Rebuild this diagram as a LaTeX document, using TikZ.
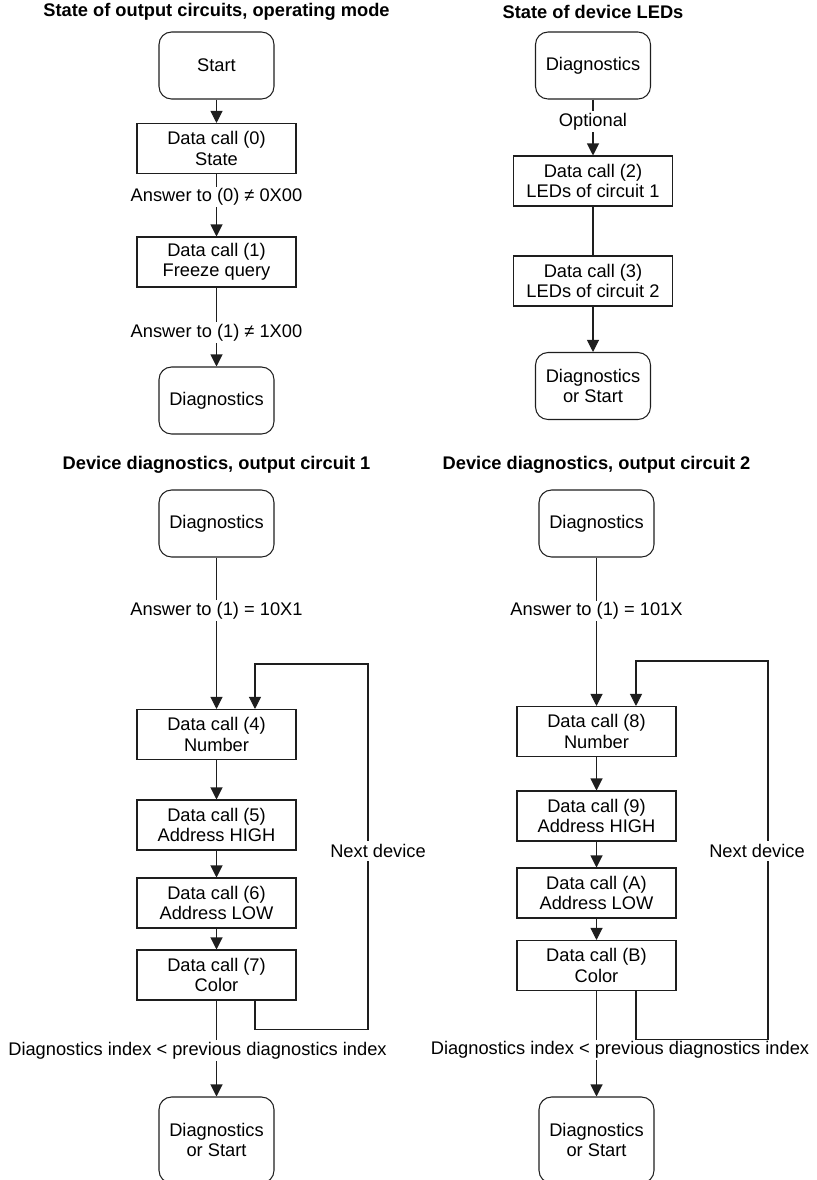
\documentclass[tikz,border=0pt]{standalone}
\definecolor{LineBlack}{RGB}{30,30,30}
\usepackage{fontspec}
\setmainfont{Liberation Sans}
\usepackage{tikz}
\usetikzlibrary{arrows.meta, positioning, calc}

\begin{document}
\begin{tikzpicture}[x=0.02cm, y=-0.02cm, font=\fontsize{10.4}{11.6}\selectfont,
	dcbox/.style={rectangle, draw=LineBlack, line width=0.6pt, minimum width=3.18cm,
		minimum height=1cm, align=center, inner sep=1pt},
	term/.style={rectangle, rounded corners=0.25cm, draw=LineBlack, line width=0.6pt,
		minimum width=2.3cm, minimum height=1.34cm, align=center},
	flow/.style={draw=LineBlack, line width=0.6pt, -{Triangle[length=0.24cm, width=0.24cm]}},
	conn/.style={draw=LineBlack, line width=0.6pt},
	lbl/.style={fill=white, inner sep=1pt},
	ttl/.style={font=\fontsize{10.4}{11.6}\selectfont\bfseries}]
	\useasboundingbox (0,0) rectangle (817,1180);
	% estado de los circuitos de salida
	\begin{scope}
		\node[ttl] (t1) at (216.5,12) {State of output circuits, operating mode};
		\node[term] (s1) at (216.5,65.5) {Start};
		\node[dcbox] (c0) at (216.5,148.5) {Data call (0)\\State};
		\node[dcbox] (c1) at (216.5,262) {Data call (1)\\Freeze query};
		\node[term] (d1) at (216.5,400.5) {Diagnostics};
		\draw[flow] (s1) -- (c0);
		\draw[flow] (c0) -- node[lbl, pos=0.37] (l0) {Answer to (0) ≠ 0X00} (c1);
		\draw[flow] (c1) -- node[lbl, pos=0.57] (l1) {Answer to (1) ≠ 1X00} (d1);
	\end{scope}
	% estado de los LEDs
	\begin{scope}
		\node[ttl] (t2) at (593,12) {State of device LEDs};
		\node[term] (d2) at (593,65.5) {Diagnostics};
		\node[dcbox] (c2) at (593,181) {Data call (2)\\LEDs of circuit 1};
		\node[dcbox] (c3) at (593,281) {Data call (3)\\LEDs of circuit 2};
		\node[term] (e2) at (593,386) {Diagnostics\\or Start};
		\draw[flow] (d2) -- node[lbl, pos=0.39] (l2) {Optional} (c2);
		\draw[conn] (c2) -- (c3);
		\draw[flow] (c3) -- (e2);
	\end{scope}
	% diagnostico, circuito 1
	\begin{scope}
		\node[ttl] (t3) at (216.5,465) {Device diagnostics, output circuit 1};
		\node[term] (d3) at (216.5,523.5) {Diagnostics};
		\foreach \n/\t/\y [count=\k] in {4/Number/734.5, 5/Address HIGH/825,
			6/Address LOW/903, 7/Color/975}
			{\node[dcbox] (p\k) at (216.5,\y) {Data call (\n)\\\t};}
		\foreach \a/\b in {1/2, 2/3, 3/4}
			{\draw[flow] (p\a) -- (p\b);}
		\node[term, minimum height=1.72cm] (e3) at (216.5,1140) {Diagnostics\\or Start};
		\draw[flow] (d3) -- node[lbl, pos=0.35] (l3) {Answer to (1) = 10X1} (p1);
		\draw[flow] (p4) -- node[lbl, pos=0.52, xshift=-0.38cm] (m3)
			{Diagnostics index < previous diagnostics index} (e3);
		\coordinate (r3) at (368,664);
		\draw[flow] ([xshift=0.77cm]p4.south) -- ++(0,29) -| (r3) -| ([xshift=0.77cm]p1.north);
		\node[lbl, inner sep=2pt] (n3) at (378,851) {Next device};
	\end{scope}
	% diagnostico, circuito 2
	\begin{scope}
		\node[ttl] (t4) at (596.5,465) {Device diagnostics, output circuit 2};
		\node[term] (d4) at (596.5,523.5) {Diagnostics};
		\foreach \n/\t/\y [count=\k] in {8/Number/731.5, 9/Address HIGH/816,
			A/Address LOW/893, B/Color/965.5}
			{\node[dcbox] (q\k) at (596.5,\y) {Data call (\n)\\\t};}
		\foreach \a/\b in {1/2, 2/3, 3/4}
			{\draw[flow] (q\a) -- (q\b);}
		\node[term, minimum height=1.72cm] (e4) at (596.5,1140) {Diagnostics\\or Start};
		\draw[flow] (d4) -- node[lbl, pos=0.36] (l4) {Answer to (1) = 101X} (q1);
		\draw[flow] (q4) -- node[lbl, pos=0.56, xshift=0.47cm] (m4)
			{Diagnostics index < previous diagnostics index} (e4);
		\coordinate (r4) at (768,661);
		\draw[flow] ([xshift=0.79cm]q4.south) -- ++(0,48) -| (r4) -| ([xshift=0.79cm]q1.north);
		\node[lbl, inner sep=2pt] (n4) at (757,851) {Next device};
	\end{scope}
\end{tikzpicture}
\end{document}
